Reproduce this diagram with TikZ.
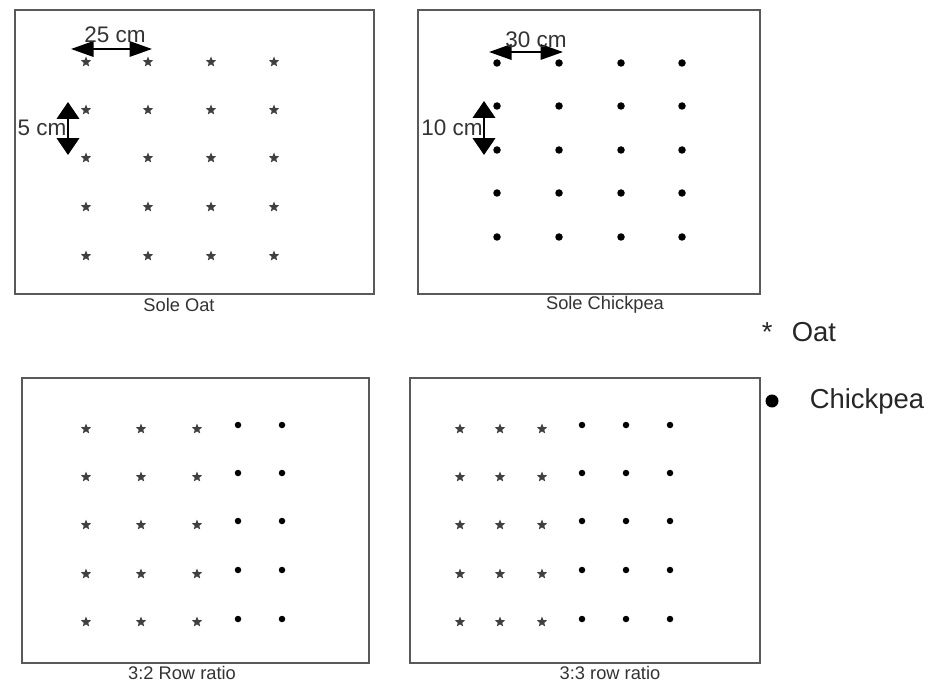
\documentclass[tikz,border=0pt]{standalone}
\usepackage{fontspec}
\setmainfont{Liberation Sans}
\usetikzlibrary{arrows.meta,shapes.geometric,fit,positioning}
\begin{document}
\begin{tikzpicture}
      [x=0.025cm, y=-0.025cm,
       plot box/.style={draw=black!65, line width=0.9pt, inner sep=0pt},
       oat/.style={star, star points=5, star point ratio=2.3, fill=black!75, inner sep=0pt, minimum size=11*0.025cm},
       pea/.style={circle, fill=black, inner sep=0pt, minimum width=7.5*0.025cm, minimum height=6.5*0.025cm},
       small pea/.style={pea, minimum width=6.5*0.025cm, minimum height=5.5*0.025cm},
       plot label/.style={font=\fontsize{13}{15}\selectfont, text=black!80},
       gap label/.style={font=\fontsize{16}{18}\selectfont, text=black!80},
       legend label/.style={font=\fontsize{19.5}{22}\selectfont, text=black!85, anchor=west},
       gap/.style={line width=1.4pt, {Triangle[length=16pt,width=11pt]}-{Triangle[length=16pt,width=11pt]}},
       vgap/.style={line width=1.4pt, {Triangle[length=12pt,width=16pt]}-{Triangle[length=12pt,width=16pt]}}]
      \useasboundingbox (0,0) rectangle (932,682);

      \node[plot box, fit={(15,10) (374,294)}] (oat plot) {};
      \node[plot box, fit={(418,10) (760,294)}] (pea plot) {};
      \node[plot box, fit={(22,378) (369,663)}] (mix32 plot) {};
      \node[plot box, fit={(410,378) (760,663)}] (mix33 plot) {};

      \node[plot label] (oat name) at (179,305) {Sole Oat};
      \node[plot label] (pea name) at (605,305) {Sole Chickpea};
      \node[plot label] (mix32 name) at (182,673) {3:2 Row ratio};
      \node[plot label] (mix33 name) at (610,673) {3:3 row ratio};

      \foreach \x in {86,148,211,274}
        \foreach \y in {62,110,158,207,256}
          \node[oat] at (\x,\y) {};
      \foreach \x in {497,559,621,682}
        \foreach \y in {63,106,150,193,237}
          \node[pea] at (\x,\y) {};

      \foreach \y in {429,477,525,574,622} {
        \foreach \x in {86,141,197}
          \node[oat] at (\x,\y) {};
        \foreach \x in {460,500,542}
          \node[oat] at (\x,\y) {};
      }
      \foreach \y in {425,473,521,570,619} {
        \foreach \x in {238,282}
          \node[small pea] at (\x,\y) {};
        \foreach \x in {582,626,670}
          \node[small pea] at (\x,\y) {};
      }

      \coordinate (a1) at (71,49);
      \coordinate (a2) at (152,49);
      \coordinate (b1) at (68,102);
      \coordinate (b2) at (68,155);
      \coordinate (c1) at (489,52);
      \coordinate (c2) at (563,52);
      \coordinate (d1) at (484,101);
      \coordinate (d2) at (484,155);

      \draw[gap] (a1) -- (a2);
      \draw[vgap] (b1) -- (b2);
      \draw[gap] (c1) -- (c2);
      \draw[vgap] (d1) -- (d2);

      \node[gap label] (oat row) at (115,35) {25 cm};
      \node[gap label] (oat plant) at (42,128) {5 cm};
      \node[gap label] (pea row) at (536,40) {30 cm};
      \node[gap label] (pea plant) at (452,128) {10 cm};

      \node[legend label] (oat key) at (757,332) {*\hspace{0.7em}Oat};
      \node[pea, minimum width=13*0.025cm, minimum height=10.5*0.025cm] (pea dot) at (772,401) {};
      \node[legend label, right=26*0.025cm of pea dot] (pea key) {Chickpea};
\end{tikzpicture}
\end{document}
